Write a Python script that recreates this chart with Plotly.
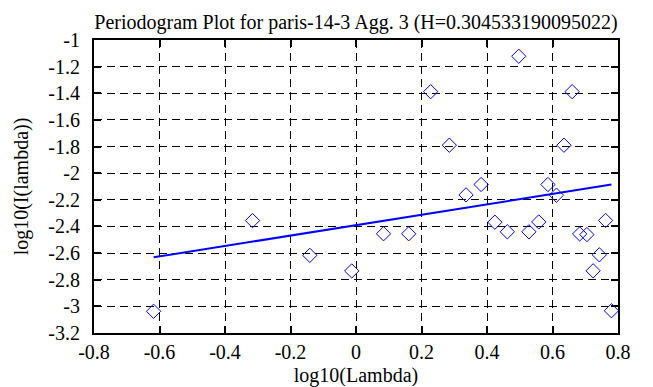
import plotly.graph_objects as go

# Periodogram points (log10 frequency vs log10 periodogram)
log_lambda = [-0.618, -0.316, -0.141, -0.013, 0.084, 0.161, 0.228, 0.285, 0.336,
              0.382, 0.424, 0.462, 0.497, 0.528, 0.558, 0.586, 0.612, 0.635,
              0.660, 0.683, 0.705, 0.724, 0.743, 0.762, 0.780]
log_I = [-3.037, -2.356, -2.617, -2.734, -2.455, -2.455, -1.388, -1.790, -2.163,
         -2.085, -2.368, -2.440, -1.122, -2.440, -2.366, -2.085, -2.165, -1.790,
         -1.388, -2.456, -2.461, -2.733, -2.613, -2.355, -3.033]

# Least-squares fit line end points
fit_x = [-0.618, 0.780]
fit_y = [-2.632, -2.085]

x_tick_vals = [-0.8, -0.6, -0.4, -0.2, 0, 0.2, 0.4, 0.6, 0.8]
x_tick_text = ["-0.8", "-0.6", "-0.4", "-0.2", "0", "0.2", "0.4", "0.6", "0.8"]
y_tick_vals = [-1, -1.2, -1.4, -1.6, -1.8, -2, -2.2, -2.4, -2.6, -2.8, -3, -3.2]
y_tick_text = ["-1", "-1.2", "-1.4", "-1.6", "-1.8", "-2", "-2.2", "-2.4", "-2.6",
               "-2.8", "-3", "-3.2"]

title_text = "Periodogram Plot for paris-14-3 Agg. 3 (H=0.304533190095022)"
FONT = "Liberation Serif"

fig = go.Figure()
fig.add_trace(go.Scatter(
    x=log_lambda, y=log_I, mode="markers",
    marker=dict(symbol="diamond-open", size=11, color="#0000ff",
                line=dict(width=1, color="#0000ff")),
))
fig.add_trace(go.Scatter(
    x=fit_x, y=fit_y, mode="lines",
    line=dict(color="#0000ff", width=2),
))

axis_common = dict(
    showline=True, linecolor="black", linewidth=2, mirror="allticks",
    ticks="inside", ticklen=7, tickwidth=2, tickcolor="black",
    showgrid=True, gridcolor="black", gridwidth=1, griddash="8px,5px",
    zeroline=False, tickfont=dict(family=FONT, size=20, color="black"),
)

fig.update_xaxes(range=[-0.8, 0.8], tickvals=x_tick_vals, ticktext=x_tick_text,
                 ticklabelstandoff=0,
                 title=dict(text="log10(Lambda)", font=dict(family=FONT, size=20, color="black"),
                            standoff=6),
                 **axis_common)
fig.update_yaxes(range=[-3.2, -1], tickvals=y_tick_vals, ticktext=y_tick_text,
                 ticklabelstandoff=8,
                 title=dict(text="log10(I(lambda))", font=dict(family=FONT, size=20, color="black"),
                            standoff=14),
                 **axis_common)

fig.update_layout(
    width=653, height=387,
    margin=dict(l=82, r=43, t=32, b=55),
    paper_bgcolor="white", plot_bgcolor="white",
    showlegend=False,
    font=dict(family=FONT, size=20, color="black"),
    title=dict(text=title_text, x=0.5, xref="paper", xanchor="center",
               y=0.965, yref="container", yanchor="middle",
               font=dict(family=FONT, size=20, color="black")),
)

fig.write_html("out.html")
